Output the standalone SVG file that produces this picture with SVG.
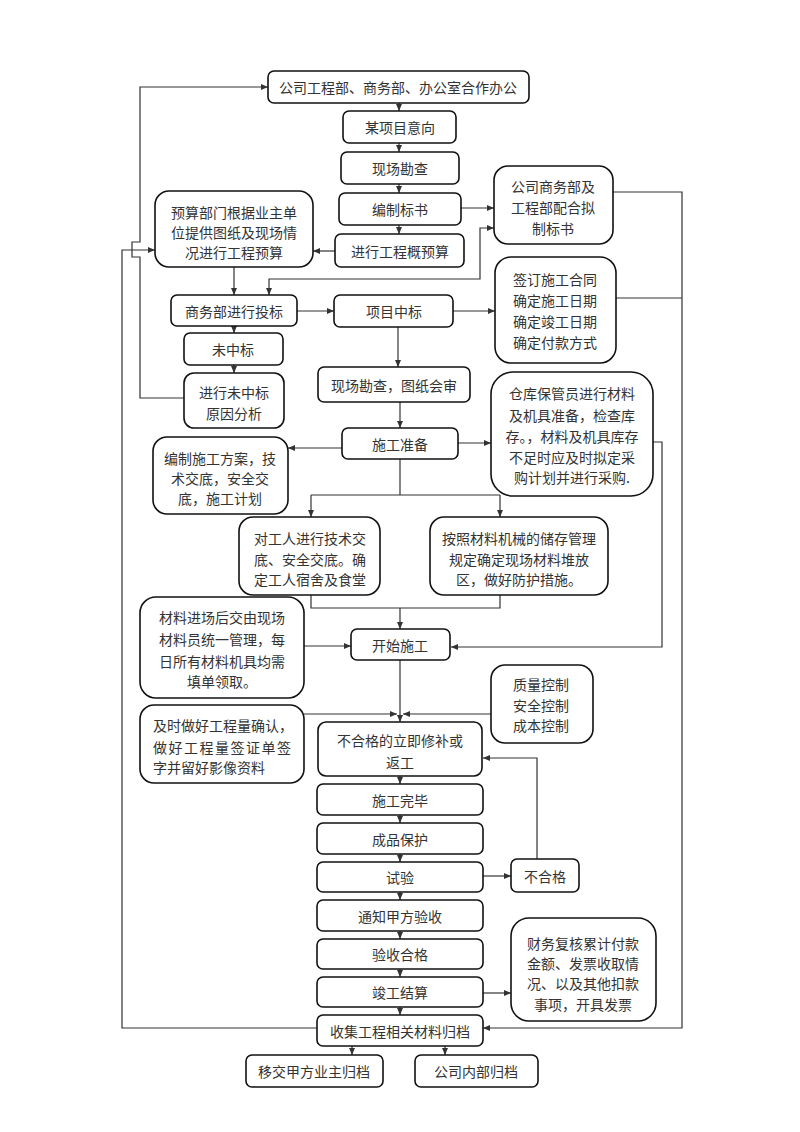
<svg xmlns="http://www.w3.org/2000/svg" width="800" height="1132" viewBox="0 0 800 1132">
<style>
.b{fill:#fff;stroke:#111;stroke-width:1.6}
.c{fill:none;stroke:#333;stroke-width:1.2}
text{font-family:"Noto Sans CJK SC","Noto Sans",sans-serif;font-size:14px;fill:#333;text-anchor:middle;dominant-baseline:central}
text.l{text-anchor:start}
</style>
<defs>
<marker id="a" markerWidth="7" markerHeight="7" refX="7" refY="3.5" orient="auto-start-reverse" markerUnits="userSpaceOnUse">
<path d="M0,0.5 L7,3.5 L0,6.5 z" fill="#333"/>
</marker>
</defs>
<rect width="800" height="1132" fill="#fff"/>
<g id="connectors">
<path class="c" d="M399,103 V111" marker-end="url(#a)"/>
<path class="c" d="M399,143 V152" marker-end="url(#a)"/>
<path class="c" d="M399,184 V193" marker-end="url(#a)"/>
<path class="c" d="M399,225 V234" marker-end="url(#a)"/>
<path class="c" d="M461,208 H494" marker-end="url(#a)"/>
<path class="c" d="M335,251 H313" marker-end="url(#a)"/>
<path class="c" d="M234,267 V295" marker-end="url(#a)"/>
<path class="c" d="M269,295 V279 H480 V228 H494" marker-start="url(#a)" marker-end="url(#a)"/>
<path class="c" d="M297,311 H334" marker-end="url(#a)"/>
<path class="c" d="M453,311 H495" marker-end="url(#a)"/>
<path class="c" d="M234,326 V333" marker-end="url(#a)"/>
<path class="c" d="M234,365 V373" marker-end="url(#a)"/>
<path class="c" d="M184,398 H140 V257 H132 V242 H140 V87 H268" marker-end="url(#a)"/>
<path class="c" d="M317,1028 H122 V250 H155" marker-end="url(#a)"/>
<path class="c" d="M613,192 H682 V1028 H483" marker-end="url(#a)"/>
<path class="c" d="M616,298 H682"/>
<path class="c" d="M398,327 V367" marker-end="url(#a)"/>
<path class="c" d="M400,402 V428" marker-end="url(#a)"/>
<path class="c" d="M342,448 H288" marker-end="url(#a)"/>
<path class="c" d="M458,443 H491" marker-end="url(#a)"/>
<path class="c" d="M400,459 V495"/>
<path class="c" d="M311,495 H500"/>
<path class="c" d="M311,495 V517" marker-end="url(#a)"/>
<path class="c" d="M500,495 V517" marker-end="url(#a)"/>
<path class="c" d="M311,595 V608 H500 V595"/>
<path class="c" d="M400,608 V629" marker-end="url(#a)"/>
<path class="c" d="M653,442 H662 V647 H451" marker-end="url(#a)"/>
<path class="c" d="M304,646 H351" marker-end="url(#a)"/>
<path class="c" d="M400,660 V722" marker-end="url(#a)"/>
<path class="c" d="M304,714 H397" marker-end="url(#a)"/>
<path class="c" d="M491,714 H403" marker-end="url(#a)"/>
<path class="c" d="M400,776 V784" marker-end="url(#a)"/>
<path class="c" d="M400,815 V823" marker-end="url(#a)"/>
<path class="c" d="M400,854 V862" marker-end="url(#a)"/>
<path class="c" d="M400,892 V900" marker-end="url(#a)"/>
<path class="c" d="M400,931 V939" marker-end="url(#a)"/>
<path class="c" d="M400,969 V977" marker-end="url(#a)"/>
<path class="c" d="M400,1007 V1015" marker-end="url(#a)"/>
<path class="c" d="M483,876 H511" marker-end="url(#a)"/>
<path class="c" d="M537,859 V758 H483" marker-end="url(#a)"/>
<path class="c" d="M483,993 H511" marker-end="url(#a)"/>
<path class="c" d="M352,1046 V1055" marker-end="url(#a)"/>
<path class="c" d="M445,1046 V1055" marker-end="url(#a)"/>
</g>
<g id="n1"><rect class="b" x="268" y="71" width="261" height="32" rx="6"/><text x="398" y="87">公司工程部、商务部、办公室合作办公</text></g>
<g id="n2"><rect class="b" x="343" y="111" width="113" height="32" rx="6"/><text x="400" y="127">某项目意向</text></g>
<g id="n3"><rect class="b" x="341" y="152" width="118" height="32" rx="6"/><text x="400" y="168">现场勘查</text></g>
<g id="n4"><rect class="b" x="339" y="193" width="122" height="32" rx="6"/><text x="400" y="209">编制标书</text></g>
<g id="n5"><rect class="b" x="335" y="234" width="129" height="33" rx="6"/><text x="400" y="251">进行工程概预算</text></g>
<g id="n6"><rect class="b" x="155" y="191" width="158" height="76" rx="14"/><text x="234" y="212">预算部门根据业主单</text><text x="234" y="232">位提供图纸及现场情</text><text x="234" y="252">况进行工程预算</text></g>
<g id="n7"><rect class="b" x="494" y="166" width="119" height="78" rx="14"/><text x="553" y="186">公司商务部及</text><text x="553" y="207">工程部配合拟</text><text x="553" y="228">制标书</text></g>
<g id="n8"><rect class="b" x="495" y="257" width="121" height="106" rx="16"/><text x="555" y="279">签订施工合同</text><text x="555" y="300">确定施工日期</text><text x="555" y="321">确定竣工日期</text><text x="555" y="342">确定付款方式</text></g>
<g id="n9"><rect class="b" x="171" y="295" width="126" height="31" rx="6"/><text x="234" y="311">商务部进行投标</text></g>
<g id="n10"><rect class="b" x="334" y="295" width="119" height="32" rx="6"/><text x="394" y="311">项目中标</text></g>
<g id="n11"><rect class="b" x="184" y="333" width="99" height="32" rx="6"/><text x="233" y="349">未中标</text></g>
<g id="n12"><rect class="b" x="184" y="373" width="100" height="55" rx="10"/><text x="234" y="392">进行未中标</text><text x="234" y="413">原因分析</text></g>
<g id="n13"><rect class="b" x="318" y="367" width="152" height="35" rx="6"/><text x="394" y="385">现场勘查，图纸会审</text></g>
<g id="n14"><rect class="b" x="342" y="428" width="116" height="31" rx="6"/><text x="400" y="444">施工准备</text></g>
<g id="n15"><rect class="b" x="153" y="437" width="135" height="77" rx="14"/><text x="220" y="458">编制施工方案，技</text><text x="220" y="478">术交底，安全交</text><text x="220" y="498">底，施工计划</text></g>
<g id="n16"><rect class="b" x="491" y="372" width="162" height="124" rx="22"/><text x="572" y="393">仓库保管员进行材料</text><text x="572" y="415">及机具准备，检查库</text><text x="572" y="436">存。，材料及机具库存</text><text x="572" y="457">不足时应及时拟定采</text><text x="572" y="477">购计划并进行采购.</text></g>
<g id="n17"><rect class="b" x="239" y="517" width="141" height="78" rx="14"/><text x="310" y="538">对工人进行技术交</text><text x="310" y="559">底、安全交底。确</text><text x="310" y="579">定工人宿舍及食堂</text></g>
<g id="n18"><rect class="b" x="430" y="517" width="178" height="78" rx="14"/><text x="519" y="538">按照材料机械的储存管理</text><text x="519" y="559">规定确定现场材料堆放</text><text x="519" y="579">区，做好防护措施。</text></g>
<g id="n19"><rect class="b" x="140" y="597" width="164" height="101" rx="16"/><text x="222" y="617">材料进场后交由现场</text><text x="222" y="639">材料员统一管理，每</text><text x="222" y="661">日所有材料机具均需</text><text x="222" y="681">填单领取。</text></g>
<g id="n20"><rect class="b" x="351" y="629" width="99" height="31" rx="6"/><text x="400" y="645">开始施工</text></g>
<g id="n21"><rect class="b" x="491" y="665" width="102" height="78" rx="14"/><text x="541" y="684">质量控制</text><text x="541" y="705">安全控制</text><text x="541" y="725">成本控制</text></g>
<g id="n22"><rect class="b" x="140" y="705" width="164" height="78" rx="14"/><text class="l" x="153" y="725">及时做好工程量确认，</text><text class="l" x="153" y="747" textLength="138" lengthAdjust="spacing">做好工程量签证单签</text><text class="l" x="153" y="767">字并留好影像资料</text></g>
<g id="n23"><rect class="b" x="318" y="722" width="164" height="54" rx="8"/><text x="400" y="740">不合格的立即修补或</text><text x="400" y="762">返工</text></g>
<g id="n24"><rect class="b" x="317" y="784" width="166" height="31" rx="6"/><text x="400" y="800">施工完毕</text></g>
<g id="n25"><rect class="b" x="317" y="823" width="166" height="31" rx="6"/><text x="400" y="839">成品保护</text></g>
<g id="n26"><rect class="b" x="317" y="862" width="166" height="30" rx="6"/><text x="400" y="877">试验</text></g>
<g id="n27"><rect class="b" x="511" y="859" width="68" height="33" rx="6"/><text x="545" y="876">不合格</text></g>
<g id="n28"><rect class="b" x="317" y="900" width="166" height="31" rx="6"/><text x="400" y="916">通知甲方验收</text></g>
<g id="n29"><rect class="b" x="317" y="939" width="166" height="30" rx="6"/><text x="400" y="954">验收合格</text></g>
<g id="n30"><rect class="b" x="317" y="977" width="166" height="30" rx="6"/><text x="400" y="992">竣工结算</text></g>
<g id="n31"><rect class="b" x="511" y="918" width="145" height="103" rx="18"/><text x="583" y="943">财务复核累计付款</text><text x="583" y="963">金额、发票收取情</text><text x="583" y="983">况、以及其他扣款</text><text x="583" y="1004">事项，开具发票</text></g>
<g id="n32"><rect class="b" x="317" y="1015" width="166" height="31" rx="6"/><text x="400" y="1031">收集工程相关材料归档</text></g>
<g id="n33"><rect class="b" x="246" y="1055" width="137" height="32" rx="6"/><text x="314" y="1071">移交甲方业主归档</text></g>
<g id="n34"><rect class="b" x="415" y="1055" width="123" height="32" rx="6"/><text x="476" y="1071">公司内部归档</text></g>
</svg>
